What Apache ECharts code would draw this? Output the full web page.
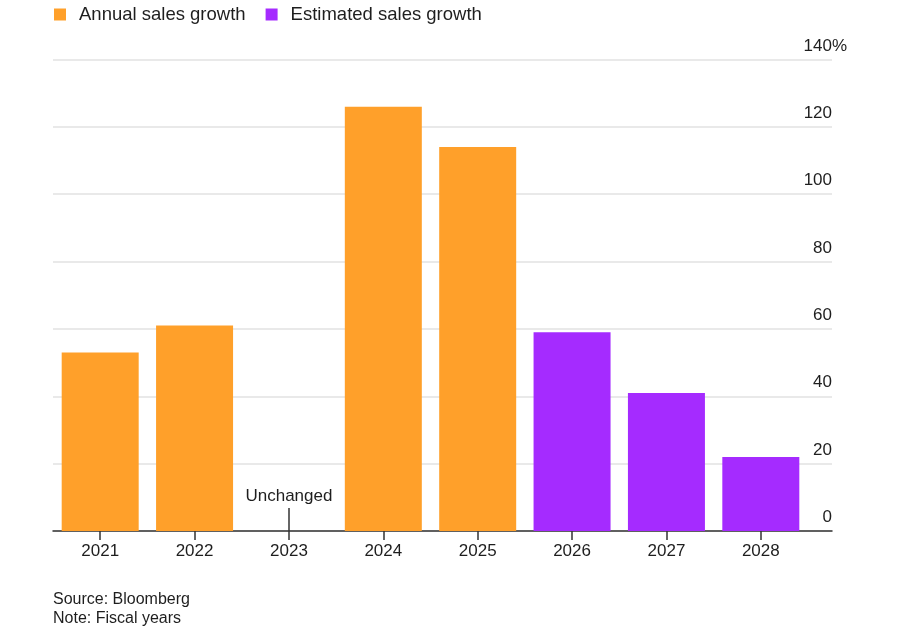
<!DOCTYPE html>
<html>
<head>
<meta charset="utf-8">
<script src="https://cdn.jsdelivr.net/npm/echarts@6/dist/echarts.min.js"></script>
<style>html,body{margin:0;padding:0;background:#fff}#c{width:900px;height:636px}</style>
</head>
<body>
<div id="c"></div>
<script>
const categories = ['2021','2022','2023','2024','2025','2026','2027','2028'];
const annualGrowth = [53, 61, 0, 126, 114, null, null, null];
const estimatedGrowth = [null, null, null, null, null, 59, 41, 22];
const yTicks = [0, 20, 40, 60, 80, 100, 120, 140];

const FONT = '"Liberation Sans", Arial, Helvetica, sans-serif';
const ORANGE = '#FFA02A';
const PURPLE = '#A52BFF';
const TXT = '#1e1e1e';

const chart = echarts.init(document.getElementById('c'));
chart.setOption({
  animation: false,
  textStyle: { fontFamily: FONT },
  legend: {
    left: 49, top: 0,
    icon: 'rect', itemWidth: 12, itemHeight: 12, itemGap: 20,
    textStyle: { fontSize: 18.5, color: TXT, fontFamily: FONT, padding: [0, 0, 2, 8] },
    data: ['Annual sales growth', 'Estimated sales growth']
  },
  grid: [
    { left: 53, right: 68, top: 59.5, bottom: 105 },
    { left: 53, right: 92, top: 59.5, bottom: 105 }
  ],
  xAxis: [
    { gridIndex: 0, type: 'value', min: 0, max: 1, show: true,
      axisLine: { show: true, lineStyle: { color: '#333', width: 1.5 } },
      axisTick: { show: false }, axisLabel: { show: false }, splitLine: { show: false } },
    { gridIndex: 1, type: 'category', data: categories,
      axisLine: { show: false },
      axisTick: { show: true, alignWithLabel: true, length: 9, lineStyle: { color: '#333', width: 1.5 } },
      axisLabel: { fontSize: 17, color: TXT, margin: 12, fontFamily: FONT } }
  ],
  yAxis: [
    { gridIndex: 0, type: 'value', position: 'right', min: 0, max: 140, interval: 20,
      axisLine: { show: false }, axisTick: { show: false },
      splitLine: { show: true, lineStyle: { color: '#e2e2e2', width: 1.5 } },
      axisLabel: {
        inside: true, margin: -15, verticalAlign: 'bottom',
        fontSize: 17, color: TXT, lineHeight: 27,
        formatter: v => v === yTicks[yTicks.length - 1] ? '{p|' + v + '%}' : '{n|' + v + '}',
        rich: {
          n: { fontSize: 17, color: TXT, lineHeight: 27, padding: [0, 15, 0, 0], fontFamily: FONT },
          p: { fontSize: 17, color: TXT, lineHeight: 27, fontFamily: FONT }
        }
      } },
    { gridIndex: 1, type: 'value', min: 0, max: 140, interval: 20, show: false }
  ],
  series: [
    { type: 'line', xAxisIndex: 0, yAxisIndex: 0, data: [], silent: true },
    { name: 'Annual sales growth', type: 'bar', xAxisIndex: 1, yAxisIndex: 1,
      data: annualGrowth, barWidth: 77, barGap: '-100%',
      itemStyle: { color: ORANGE },
      markLine: {
        silent: true, symbol: 'none',
        lineStyle: { color: '#333', width: 1.5, type: 'solid' },
        label: { show: true, position: 'end', distance: 3, formatter: 'Unchanged',
                 fontSize: 17, color: TXT, fontFamily: FONT },
        data: [[ { coord: ['2023', 0] }, { coord: ['2023', 6.8] } ]]
      } },
    { name: 'Estimated sales growth', type: 'bar', xAxisIndex: 1, yAxisIndex: 1,
      data: estimatedGrowth, barWidth: 77, barGap: '-100%',
      itemStyle: { color: PURPLE } }
  ],
  graphic: [
    { type: 'text', left: 53, top: 592, style: { text: 'Source: Bloomberg', fontSize: 16, fill: TXT, fontFamily: FONT } },
    { type: 'text', left: 53, top: 611, style: { text: 'Note: Fiscal years', fontSize: 16, fill: TXT, fontFamily: FONT } }
  ]
});
</script>
</body>
</html>
